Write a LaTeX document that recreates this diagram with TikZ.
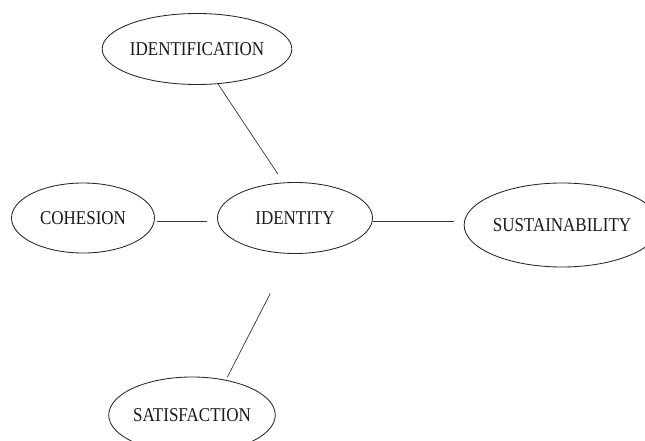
\documentclass[tikz,border=0pt]{standalone}
\usepackage{fontspec}
\setmainfont{Liberation Serif}
\usetikzlibrary{shapes.geometric}
\newcommand{\tallt}[1]{\scalebox{1}[1.15]{#1}}
\begin{document}
\begin{tikzpicture}[x=1pt,y=-1pt,
  ell/.style={ellipse, draw=black!85, line width=0.85pt, inner sep=0pt,
    font=\fontsize{17}{20}\selectfont, text=black!90},
  link/.style={draw=black!80, line width=0.7pt}]
\useasboundingbox (0,0) rectangle (645,441);
\clip (0,0) rectangle (645,441);
\node[ell, minimum width=164pt, minimum height=71pt] (idf) at (197,49) {\tallt{IDENTIFICATION}};
\node[ell, minimum width=143pt, minimum height=70pt] (coh) at (83,218) {\tallt{COHESION}};
\node[ell, minimum width=155pt, minimum height=71pt] (idt) at (295,218) {\tallt{IDENTITY}};
\node[ell, minimum width=170pt, minimum height=84pt] (sus) at (562,225) {\tallt{SUSTAINABILITY}};
\node[ell, minimum width=153pt, minimum height=76pt] (sat) at (192,415) {\tallt{SATISFACTION}};
\draw[link, shorten >=10.5pt] (idf.-59) -- (idt.108);
\draw[link, shorten <=2pt, shorten >=10.5pt] ([yshift=-3pt]coh.east) -- ([yshift=-3pt]idt.west);
\draw[link, shorten >=10pt] ([yshift=-3pt]idt.east) -- ([yshift=-3pt]idt.east -| sus.west);
\draw[link, shorten <=44.7pt, shorten >=3pt] (idt.-97) -- (sat.46);
\end{tikzpicture}
\end{document}
